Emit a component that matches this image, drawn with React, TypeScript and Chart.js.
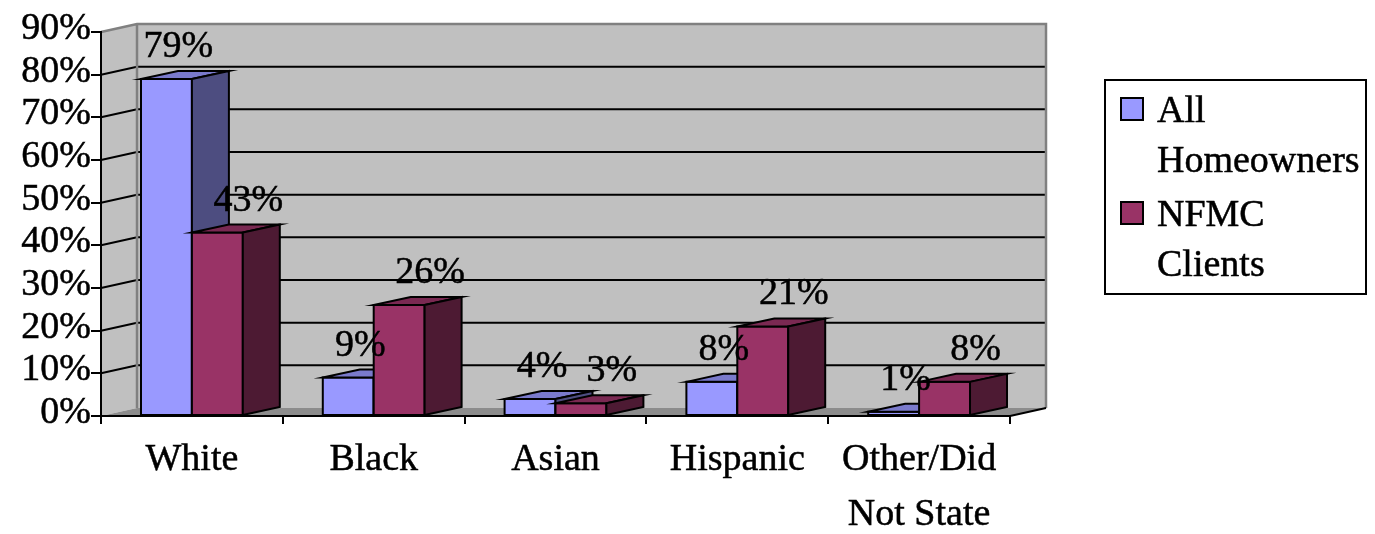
import React, { useEffect, useRef } from "react";
import { Chart, registerables } from "chart.js";

Chart.register(...registerables);

// ---- data ----
const categories: (string | string[])[] = ["White", "Black", "Asian", "Hispanic", ["Other/Did", "Not State"]];
const seriesNames = ["All Homeowners", "NFMC Clients"];
const legendLines = [["All", "Homeowners"], ["NFMC", "Clients"]];
const allHomeowners = [79, 9, 4, 8, 1];
const nfmcClients = [43, 26, 3, 21, 8];
const yMin = 0;
const yMax = 90;
const yStep = 10;

// ---- styling ----
const FONT = "'Liberation Serif', 'Times New Roman', serif";
const FONT_SIZE = 38;
const TEXT_STROKE = 0.5;
const FRONT = ["#9999FF", "#993366"];
const TOP = ["#7A7ACC", "#7A2952"];
const SIDE = ["#4D4D80", "#4D1A33"];
const WALL = "#C0C0C0";
const WALL_EDGE = "#808080";
const FLOOR = "#8C8C8C";
const WALL_DX = 36;
const WALL_DY = -8;
const BAR_DX = 37;
const BAR_DY = -8;
const LABEL_SHIFT = [12, 31];
const LABEL_RISE = 22;

function poly(ctx: CanvasRenderingContext2D, pts: number[][], fill: string | null, stroke: string | null, lw = 2) {
  ctx.beginPath();
  ctx.moveTo(pts[0][0], pts[0][1]);
  for (let i = 1; i < pts.length; i++) ctx.lineTo(pts[i][0], pts[i][1]);
  ctx.closePath();
  if (fill) {
    ctx.fillStyle = fill;
    ctx.fill();
  }
  if (stroke) {
    ctx.strokeStyle = stroke;
    ctx.lineWidth = lw;
    ctx.stroke();
  }
}

function heavyText(ctx: CanvasRenderingContext2D, t: string, x: number, y: number) {
  ctx.fillText(t, x, y);
  ctx.lineWidth = TEXT_STROKE;
  ctx.strokeStyle = "#000";
  ctx.strokeText(t, x, y);
}

// Side wall, back wall, gridlines and floor of the 3D box
const wallsPlugin = {
  id: "walls3d",
  beforeDraw(chart: any) {
    const ctx: CanvasRenderingContext2D = chart.ctx;
    const { left, right } = chart.chartArea;
    const ys = chart.scales.y;
    const yT = ys.getPixelForValue(yMax);
    const y0 = ys.getPixelForValue(yMin);
    const bl = left + WALL_DX;
    const br = right + WALL_DX;
    ctx.save();
    ctx.lineJoin = "miter";
    poly(ctx, [[left, yT], [bl, yT + WALL_DY], [bl, y0 + WALL_DY], [left, y0]], WALL, null);
    poly(ctx, [[bl, yT + WALL_DY], [br, yT + WALL_DY], [br, y0 + WALL_DY], [bl, y0 + WALL_DY]], WALL, null);

    ctx.strokeStyle = "#000";
    ctx.lineWidth = 2;
    for (let v = yMin + yStep; v < yMax; v += yStep) {
      const yp = ys.getPixelForValue(v);
      ctx.beginPath();
      ctx.moveTo(left, yp);
      ctx.lineTo(bl, yp + WALL_DY);
      ctx.lineTo(br, yp + WALL_DY);
      ctx.stroke();
    }

    // wall edges
    ctx.strokeStyle = WALL_EDGE;
    ctx.lineWidth = 2.5;
    ctx.beginPath();
    ctx.moveTo(left, yT);
    ctx.lineTo(bl, yT + WALL_DY);
    ctx.lineTo(br, yT + WALL_DY);
    ctx.lineTo(br, y0 + WALL_DY);
    ctx.moveTo(bl, yT + WALL_DY);
    ctx.lineTo(bl, y0 + WALL_DY);
    ctx.stroke();

    // floor
    poly(ctx, [[left, y0], [right, y0], [br, y0 + WALL_DY], [bl, y0 + WALL_DY]], FLOOR, null);
    ctx.strokeStyle = "#000";
    ctx.lineWidth = 2;
    ctx.beginPath();
    ctx.moveTo(right, y0);
    ctx.lineTo(br, y0 + WALL_DY);
    ctx.stroke();
    ctx.restore();
  },
};

// Extruded bars, drawn category by category so nearer faces cover farther ones
const barsPlugin = {
  id: "bars3d",
  beforeDatasetsDraw(chart: any) {
    const ctx: CanvasRenderingContext2D = chart.ctx;
    ctx.save();
    ctx.lineJoin = "miter";
    const n = chart.data.labels.length;
    for (let i = 0; i < n; i++) {
      for (let d = 0; d < chart.data.datasets.length; d++) {
        const el = chart.getDatasetMeta(d).data[i];
        const { x, y, base, width } = el.getProps(["x", "y", "base", "width"], true);
        const l = x - width / 2;
        const r = x + width / 2;
        poly(ctx, [[l, y], [r, y], [r, base], [l, base]], FRONT[d], "#000");
        poly(ctx, [[l, y], [l + BAR_DX, y + BAR_DY], [r + BAR_DX, y + BAR_DY], [r, y]], TOP[d], "#000");
        poly(ctx, [[r, y], [r + BAR_DX, y + BAR_DY], [r + BAR_DX, base + BAR_DY], [r, base]], SIDE[d], "#000");
      }
    }
    ctx.restore();
    return false;
  },
  afterDraw(chart: any) {
    const ctx: CanvasRenderingContext2D = chart.ctx;
    ctx.save();
    ctx.fillStyle = "#000";
    ctx.font = `${FONT_SIZE}px ${FONT}`;
    ctx.textAlign = "center";
    ctx.textBaseline = "alphabetic";
    chart.data.datasets.forEach((ds: any, d: number) => {
      chart.getDatasetMeta(d).data.forEach((el: any, i: number) => {
        const { x, y } = el.getProps(["x", "y"], true);
        heavyText(ctx, `${ds.data[i]}%`, x + LABEL_SHIFT[d], y - LABEL_RISE);
      });
    });

    // legend
    const bx = 1105, by = 80, bw = 261, bh = 214;
    ctx.fillStyle = "#fff";
    ctx.fillRect(bx, by, bw, bh);
    ctx.strokeStyle = "#000";
    ctx.lineWidth = 2;
    ctx.strokeRect(bx, by, bw, bh);
    ctx.textAlign = "left";
    legendLines.forEach((lines, d) => {
      const top = 98 + d * 104;
      ctx.fillStyle = FRONT[d];
      ctx.fillRect(1121, top, 22, 22);
      ctx.lineWidth = 2;
      ctx.strokeStyle = "#000";
      ctx.strokeRect(1121, top, 22, 22);
      ctx.fillStyle = "#000";
      lines.forEach((t, k) => {
        heavyText(ctx, t, 1157, top + 24 + k * 50);
      });
    });
    ctx.restore();
  },
};

export default function App() {
  const canvasRef = useRef<HTMLCanvasElement | null>(null);

  useEffect(() => {
    const canvas = canvasRef.current;
    if (!canvas) return;
    const chart = new Chart(canvas, {
      type: "bar",
      data: {
        labels: categories as any,
        datasets: [
          { label: seriesNames[0], data: allHomeowners, backgroundColor: FRONT[0] },
          { label: seriesNames[1], data: nfmcClients, backgroundColor: FRONT[1] },
        ],
      },
      options: {
        responsive: false,
        animation: false,
        devicePixelRatio: 1,
        events: [],
        layout: { padding: { top: 32, right: 365, left: 0, bottom: 0 } },
        datasets: { bar: { categoryPercentage: 0.56, barPercentage: 1 } },
        plugins: { legend: { display: false }, tooltip: { enabled: false } },
        scales: {
          x: {
            type: "category",
            offset: true,
            grid: { offset: true, drawOnChartArea: false, drawTicks: true, tickLength: 8, color: "#000", lineWidth: 2 },
            border: { color: "#000", width: 2 },
            ticks: {
              color: "#000",
              font: { family: FONT, size: FONT_SIZE, lineHeight: 1.45 },
              textStrokeColor: "#000",
              textStrokeWidth: TEXT_STROKE,
              padding: 8,
              maxRotation: 0,
              autoSkip: false,
            },
            afterFit: (s: any) => {
              s.height = 118;
            },
          },
          y: {
            min: yMin,
            max: yMax,
            grid: { drawOnChartArea: false, drawTicks: true, tickLength: 10, color: "#000", lineWidth: 2 },
            border: { color: "#000", width: 2 },
            ticks: {
              stepSize: yStep,
              autoSkip: false,
              color: "#000",
              font: { family: FONT, size: FONT_SIZE },
              textStrokeColor: "#000",
              textStrokeWidth: TEXT_STROKE,
              padding: 0,
              labelOffset: -3,
              callback: (v: any) => `${v}%`,
            },
            afterFit: (s: any) => {
              s.width = 101;
            },
          },
        },
      },
      plugins: [wallsPlugin, barsPlugin],
    } as any);
    return () => chart.destroy();
  }, []);

  return (
    <div style={{ position: "fixed", left: 0, top: 0, width: 1375, height: 534, background: "#fff" }}>
      <canvas ref={canvasRef} width={1375} height={534} style={{ display: "block" }} />
    </div>
  );
}
